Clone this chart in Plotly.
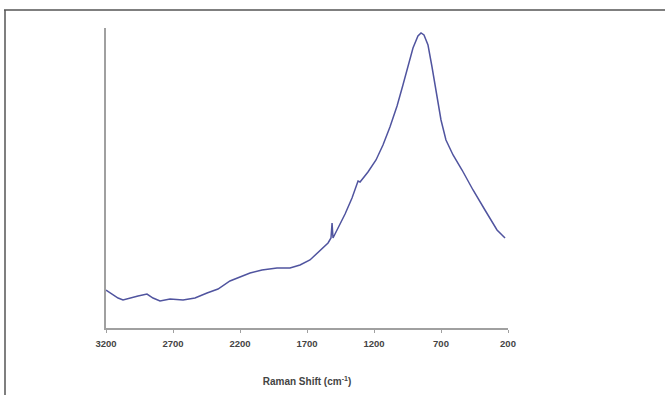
import plotly.graph_objects as go

# Raman shift (cm^-1) and relative intensity
raman_shift = [3200, 3155, 3110, 3073, 3021, 2961, 2894, 2849, 2797, 2722, 2625, 2536,
               2446, 2364, 2275, 2200, 2125, 2036, 1924, 1827, 1752, 1678, 1603, 1543,
               1521, 1513, 1506, 1469, 1416, 1364, 1327, 1319, 1304, 1245, 1185, 1133,
               1081, 1028, 984, 946, 909, 872, 849, 827, 797, 767, 730, 700, 663, 610,
               543, 461, 372, 282, 222]
intensity = [38, 34, 30, 28, 30, 32, 34, 30, 27, 29, 28, 30,
             35, 39, 47, 51, 55, 58, 60, 60, 63, 68, 77, 85,
             90, 105, 90, 100, 114, 130, 143, 147, 146, 156, 168, 183,
             201, 222, 243, 261, 280, 292, 295, 293, 283, 261, 233, 208, 188, 173,
             158, 138, 118, 98, 90]
tick_vals = [3200, 2700, 2200, 1700, 1200, 700, 200]

fig = go.Figure()
fig.add_trace(go.Scatter(x=raman_shift, y=intensity, mode="lines",
                         line=dict(color="#50549f", width=1.5), showlegend=False))

W, H = 665, 395
L, R, T, B = 106, 157, 28, 67
fig.update_layout(
    width=W, height=H,
    margin=dict(l=L, r=R, t=T, b=B),
    paper_bgcolor="white", plot_bgcolor="white",
    font=dict(family="Liberation Sans, Arial, sans-serif", color="#333333"),
    xaxis=dict(range=[3200, 200], autorange=False, tickmode="array",
               tickvals=tick_vals, ticktext=[f"<b>{v}</b>" for v in tick_vals],
               tickfont=dict(size=9.5, color="#444444"),
               ticks="outside", ticklen=3, tickcolor="#a0a0a0",
               ticklabelstandoff=3, automargin=False,
               showline=True, linecolor="#a0a0a0", linewidth=1.5,
               showgrid=False, zeroline=False,
               title=dict(text="<b>Raman Shift (cm<sup>-1</sup>)</b>",
                          font=dict(size=10, color="#444444"), standoff=30)),
    yaxis=dict(range=[0, 300], autorange=False, showticklabels=False, ticks="",
               showline=True, linecolor="#a0a0a0", linewidth=1.5, automargin=False,
               showgrid=False, zeroline=False),
)

def px_x(p):
    return (p - L) / (W - L - R)

def px_y(p):
    return (H - B - p) / (H - T - B)

frame = dict(color="#555555", width=1.5)
fig.add_shape(type="line", xref="paper", yref="paper", layer="above",
              x0=px_x(5), x1=px_x(5), y0=px_y(10), y1=px_y(395), line=frame)
fig.add_shape(type="line", xref="paper", yref="paper", layer="above",
              x0=px_x(4), x1=px_x(665), y0=px_y(10), y1=px_y(10), line=frame)

fig.write_html("out.html", config={"displayModeBar": False},
               post_script="document.body.style.margin='0';document.body.style.overflow='hidden';")
